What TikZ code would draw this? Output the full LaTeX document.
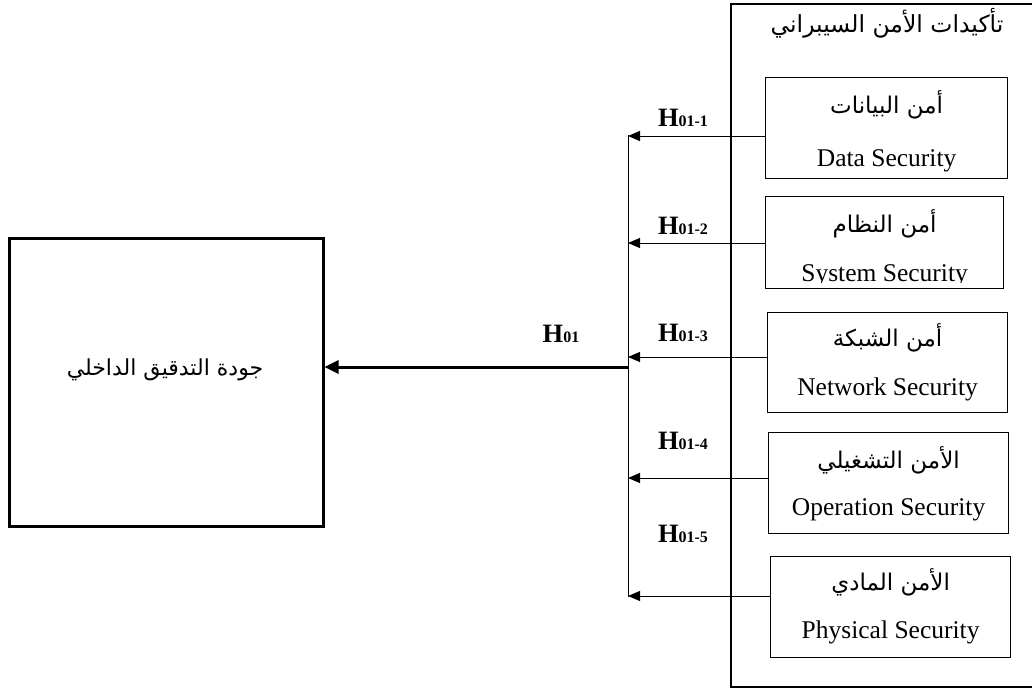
\documentclass[tikz,border=0pt]{standalone}
\usepackage{fontspec}
\setmainfont{Liberation Serif}
\newfontfamily\arabicfont[Script=Arabic]{DejaVu Sans}
\TeXXeTstate=1
\usetikzlibrary{arrows.meta}
\tikzset{
  sbox/.style={draw, line width=1.2pt, inner sep=0pt, anchor=north west},
  ar/.style={font=\arabicfont\fontsize{23}{26}\selectfont, inner sep=0pt},
  en/.style={font=\fontsize{25.5}{30}\selectfont, inner sep=0pt, anchor=base},
  hl/.style={inner sep=0pt, anchor=base},
  arr/.style={line width=1pt, -{Triangle[length=12pt,width=10pt]}},
}
\newcommand{\hlab}[1]{{\fontsize{26.5}{30}\selectfont\bfseries H}{\fontsize{16}{20}\selectfont\bfseries #1}}
\begin{document}
\begin{tikzpicture}[x=1pt,y=-1pt]
\clip (0,0) rectangle (1032,691);
\fill[white] (0,0) rectangle (1032,691);
% outer box
\node[draw, line width=2pt, inner sep=0pt, anchor=north west, minimum width=340pt, minimum height=683pt] (outer) at (730,3) {};
\node[ar, font=\arabicfont\fontsize{23.5}{27}\selectfont] (title) at (887,23) {\beginR تأكيدات الأمن السيبراني\endR};
% left box
\node[draw, line width=2.5pt, inner sep=0pt, anchor=north west, minimum width=314pt, minimum height=288pt] (L) at (8,237) {};
\node[ar, font=\arabicfont\fontsize{22}{26}\selectfont] (Ltext) at (165,370) {\beginR جودة التدقيق الداخلي\endR};
% small boxes
\node[sbox, minimum width=242pt, minimum height=101pt] (b1) at (765,77) {};
\node[sbox, minimum width=238pt, minimum height=92pt] (b2) at (765,196) {};
\node[sbox, minimum width=240pt, minimum height=100pt] (b3) at (767,312) {};
\node[sbox, minimum width=240pt, minimum height=101pt] (b4) at (768,432) {};
\node[sbox, minimum width=240pt, minimum height=101pt] (b5) at (770,556) {};
% texts
\node[ar] (a1) at ([yshift=-28pt]b1.north) {\beginR أمن البيانات\endR};
\node[en] (e1) at ([yshift=-89pt]b1.north) {Data Security};
\node[ar] (a2) at ([yshift=-28pt]b2.north) {\beginR أمن النظام\endR};
\begin{scope}
\clip (765,196) rectangle (1003,282);
\node[en] (e2) at ([yshift=-85pt]b2.north) {System Security};
\end{scope}
\node[ar] (a3) at ([yshift=-26pt]b3.north) {\beginR أمن الشبكة\endR};
\node[en] (e3) at ([yshift=-83pt]b3.north) {Network Security};
\node[ar] (a4) at ([yshift=-28pt]b4.north) {\beginR الأمن التشغيلي\endR};
\node[en] (e4) at ([yshift=-83pt]b4.north) {Operation Security};
\node[ar] (a5) at ([yshift=-26pt]b5.north) {\beginR الأمن المادي\endR};
\node[en] (e5) at ([yshift=-82pt]b5.north) {Physical Security};
% bus line
\coordinate (vt) at (628,135);
\coordinate (vb) at (628,597);
\coordinate (v1) at (628,136);
\coordinate (v2) at (628,243);
\coordinate (v3) at (628,357);
\coordinate (v4) at (628,478);
\coordinate (v5) at (628,596);
\coordinate (vm) at (628,367);
\draw[line width=1pt] (vt) -- (vb);
\draw[arr] (v1 -| b1.west) -- (v1);
\draw[arr] (v2 -| b2.west) -- (v2);
\draw[arr] (v3 -| b3.west) -- (v3);
\draw[arr] (v4 -| b4.west) -- (v4);
\draw[arr] (v5 -| b5.west) -- (v5);
\draw[line width=3pt, -{Triangle[length=14pt,width=13pt]}] (vm) -- (vm -| L.east);
% labels
\node[hl] (h1) at (683,126) {\hlab{01-1}};
\node[hl] (h2) at (683,234) {\hlab{01-2}};
\node[hl] (h3) at (683,341) {\hlab{01-3}};
\node[hl] (h4) at (683,449) {\hlab{01-4}};
\node[hl] (h5) at (683,542) {\hlab{01-5}};
\node[hl] (h0) at (561,342) {\hlab{01}};
\end{tikzpicture}
\end{document}
